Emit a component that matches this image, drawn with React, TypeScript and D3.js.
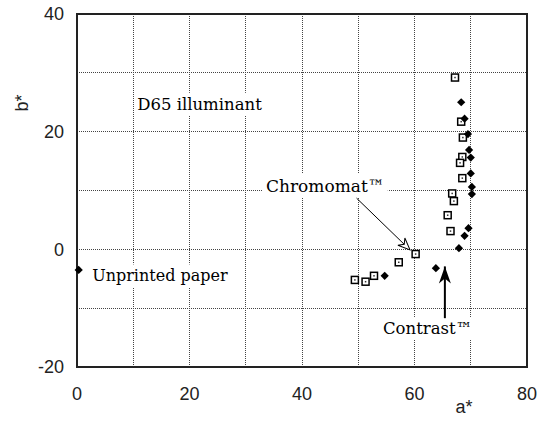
import React, { useRef, useEffect } from 'react'
import * as d3 from 'd3'

// Chromomat (open squares) and Contrast (filled diamonds), a* / b*
const chromomatA = [67.2, 68.3, 68.6, 68.5, 68.1, 68.5, 66.7, 67.0, 65.9, 66.4, 60.2, 57.2, 52.8, 51.3, 49.4]
const chromomatB = [29.2, 21.7, 19.0, 15.7, 14.7, 12.1, 9.5, 8.2, 5.8, 3.1, -0.8, -2.2, -4.5, -5.5, -5.2]
const contrastA = [68.3, 68.9, 69.5, 69.7, 70.0, 70.0, 70.2, 70.2, 69.6, 68.9, 67.9, 63.8, 54.7]
const contrastB = [25.0, 22.2, 19.6, 16.9, 15.6, 12.9, 10.6, 9.4, 3.6, 2.3, 0.2, -3.2, -4.5]
const paperA = [0.3]
const paperB = [-3.5]

const xTicks = [0, 20, 40, 60, 80]
const yTicks = [-20, 0, 20, 40]
const gridX = [10, 20, 30, 40, 50, 60, 70]
const gridY = [-10, 0, 10, 20, 30]

export default function App() {
    const svgRef = useRef<SVGSVGElement>(null)
    const width = 537
    const height = 424
    const margin = { top: 14, right: 10, bottom: 57, left: 77 }

    useEffect(() => {
        draw()
    }, [])

    const draw = () => {
        const svg = d3.select(svgRef.current)
        svg.selectAll('*').remove()

        const x = d3.scaleLinear().domain([0, 80]).range([margin.left, width - margin.right])
        const y = d3.scaleLinear().domain([-20, 40]).range([height - margin.bottom, margin.top])

        const defs = svg.append('defs')
        defs.append('marker')
            .attr('id', 'openHead')
            .attr('markerUnits', 'userSpaceOnUse')
            .attr('viewBox', '-14 -7 16 14')
            .attr('markerWidth', 16).attr('markerHeight', 14)
            .attr('refX', 0).attr('refY', 0)
            .attr('orient', 'auto')
            .append('path')
            .attr('d', 'M0,0 L-12,-5 L-8,0 L-12,5 Z')
            .attr('fill', '#fff').attr('stroke', '#000').attr('stroke-width', 1)
        defs.append('marker')
            .attr('id', 'solidHead')
            .attr('markerUnits', 'userSpaceOnUse')
            .attr('viewBox', '-18 -8 20 16')
            .attr('markerWidth', 20).attr('markerHeight', 16)
            .attr('refX', 0).attr('refY', 0)
            .attr('orient', 'auto')
            .append('path')
            .attr('d', 'M0,0 L-17,-6 L-12,0 L-17,6 Z')
            .attr('fill', '#000')

        // dotted grid
        svg.append('g').selectAll('line').data(gridX).join('line')
            .attr('x1', d => x(d)).attr('x2', d => x(d))
            .attr('y1', y(40)).attr('y2', y(-20))
            .attr('stroke', '#444').attr('stroke-dasharray', '1,1').attr('shape-rendering', 'crispEdges')
        svg.append('g').selectAll('line').data(gridY).join('line')
            .attr('x1', x(0)).attr('x2', x(80))
            .attr('y1', d => y(d)).attr('y2', d => y(d))
            .attr('stroke', '#444').attr('stroke-dasharray', '1,1').attr('shape-rendering', 'crispEdges')

        // frame
        svg.append('rect')
            .attr('x', x(0)).attr('y', y(40))
            .attr('width', x(80) - x(0)).attr('height', y(-20) - y(40))
            .attr('fill', 'none').attr('stroke', '#222').attr('stroke-width', 2)

        // labels with white boxes
        const labels = [
            { text: 'D65 illuminant', a: 10.7, b: 24.7, size: 16.5 },
            { text: 'Chromomat\u2122', a: 33.6, b: 10.8, size: 17 },
            { text: 'Contrast\u2122', a: 54.4, b: -13.4, size: 16.5 },
            { text: 'Unprinted paper', a: 2.7, b: -4.5, size: 16 },
        ]
        const lg = svg.append('g')
        labels.forEach(l => {
            const g = lg.append('g')
            const rect = g.append('rect').attr('fill', '#fff')
            const t = g.append('text')
                .attr('x', x(l.a)).attr('y', y(l.b))
                .attr('dy', '0.35em')
                .attr('font-family', 'DejaVu Serif')
                .attr('font-size', l.size)
                .attr('fill', '#000')
                .text(l.text)
            const bb = (t.node() as SVGTextElement).getBBox()
            rect.attr('x', bb.x - 3).attr('y', bb.y - 2).attr('width', bb.width + 6).attr('height', bb.height + 4)
        })

        // arrows
        svg.append('line')
            .attr('x1', x(49.7)).attr('y1', y(8.7))
            .attr('x2', x(59.2)).attr('y2', y(-0.1))
            .attr('stroke', '#000').attr('stroke-width', 1)
            .attr('marker-end', 'url(#openHead)')
        svg.append('line')
            .attr('x1', x(65.4)).attr('y1', y(-11.7))
            .attr('x2', x(65.4)).attr('y2', y(-2.9))
            .attr('stroke', '#000').attr('stroke-width', 2)
            .attr('marker-end', 'url(#solidHead)')

        // markers
        const squares = chromomatA.map((a, i) => ({ a, b: chromomatB[i] }))
        const sq = svg.append('g').selectAll('g').data(squares).join('g')
            .attr('transform', d => `translate(${x(d.a)},${y(d.b)})`)
        sq.append('rect').attr('x', -3.5).attr('y', -3.5).attr('width', 7).attr('height', 7)
            .attr('fill', '#fff').attr('stroke', '#000').attr('stroke-width', 1.5)
        sq.append('rect').attr('x', -0.75).attr('y', -0.75).attr('width', 1.5).attr('height', 1.5)
            .attr('fill', '#333')

        const diamond = d3.symbol().type(d3.symbolSquare).size(34)
        const diamonds = contrastA.map((a, i) => ({ a, b: contrastB[i] }))
            .concat(paperA.map((a, i) => ({ a, b: paperB[i] })))
        svg.append('g').selectAll('path').data(diamonds).join('path')
            .attr('d', diamond()!)
            .attr('transform', d => `translate(${x(d.a)},${y(d.b)}) rotate(45)`)
            .attr('fill', '#000')

        // ticks
        svg.append('g').selectAll('text').data(xTicks).join('text')
            .attr('x', d => x(d)).attr('y', y(-20) + 33)
            .attr('text-anchor', 'middle')
            .attr('font-family', 'Liberation Sans').attr('font-size', 18).attr('fill', '#222')
            .text(d => d)
        svg.append('g').selectAll('text').data(yTicks).join('text')
            .attr('x', x(0) - 13).attr('y', d => y(d))
            .attr('dy', '0.35em')
            .attr('text-anchor', 'end')
            .attr('font-family', 'Liberation Sans').attr('font-size', 18).attr('fill', '#222')
            .text(d => d)

        svg.append('text')
            .attr('x', 464).attr('y', 413)
            .attr('text-anchor', 'middle')
            .attr('font-family', 'Liberation Sans').attr('font-size', 18).attr('fill', '#222')
            .text('a*')
        svg.append('text')
            .attr('transform', 'translate(28,103) rotate(-90)')
            .attr('text-anchor', 'middle')
            .attr('font-family', 'Liberation Sans').attr('font-size', 18).attr('fill', '#222')
            .text('b*')
    }

    return (
        <svg ref={svgRef} width={width} height={height}
            style={{ position: 'absolute', left: 0, top: 0, background: '#fff' }} />
    )
}
